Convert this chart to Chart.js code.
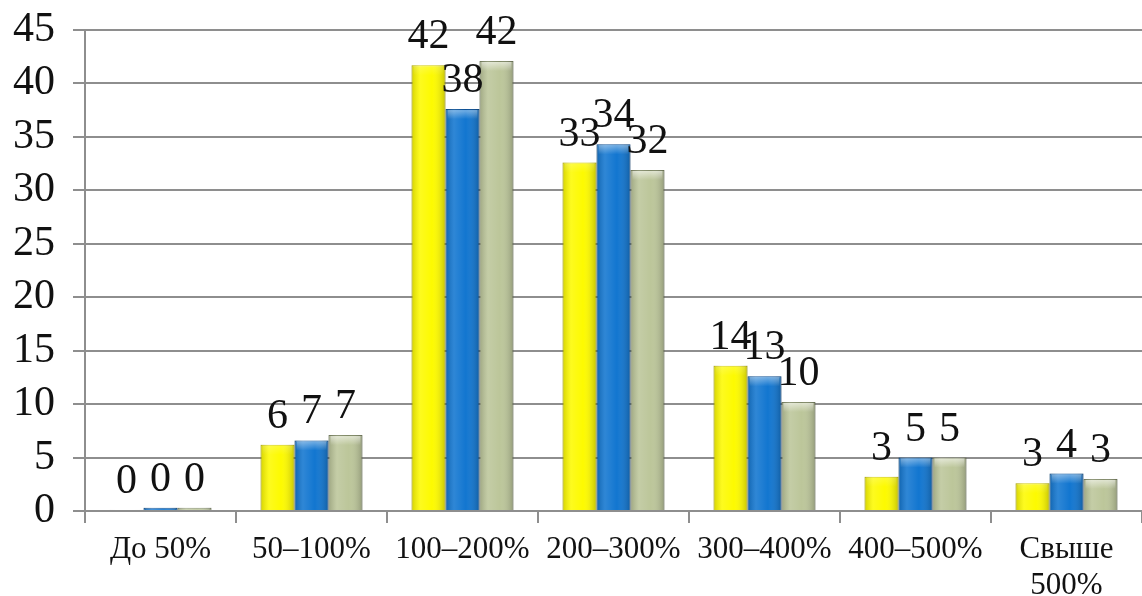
<!DOCTYPE html>
<html>
<head>
<meta charset="utf-8">
<script src="https://cdn.jsdelivr.net/npm/chart.js@4/dist/chart.umd.min.js"></script>
<style>
  html, body { margin: 0; padding: 0; background: #fff; }
  #wrap { width: 1142px; height: 596px; position: relative; }
</style>
</head>
<body>
<div id="wrap"><canvas id="chart"></canvas></div>
<script>
// categories and the three series
var categories = ['До 50%', '50–100%', '100–200%', '200–300%', '300–400%', '400–500%', ['Свыше', '500%']];
var yellowValues = [0.1, 6.2, 41.7, 32.6, 13.6, 3.2, 2.6];
var blueValues   = [0.3, 6.6, 37.6, 34.3, 12.6, 5.0, 3.5];
var greenValues  = [0.3, 7.1, 42.1, 31.9, 10.2, 5.0, 3.0];

var gridColor = '#8e8e8e';
var serif = '"Liberation Serif", "DejaVu Serif", serif';

// shading over each bar + value labels on top
var barDecor = {
    id: 'barDecor',
    afterDatasetsDraw: function(chart) {
        var ctx = chart.ctx;
        chart.data.datasets.forEach(function(ds, i) {
            var meta = chart.getDatasetMeta(i);
            meta.data.forEach(function(bar) {
                var left = bar.x - bar.width / 2;
                var top = bar.y;
                var h = bar.base - bar.y;
                if (h <= 0) return;
                ctx.save();
                var g = ctx.createLinearGradient(left, 0, left + bar.width, 0);
                g.addColorStop(0, 'rgba(0,0,0,0.16)');
                g.addColorStop(0.25, 'rgba(255,255,255,0.12)');
                g.addColorStop(0.6, 'rgba(255,255,255,0)');
                g.addColorStop(1, 'rgba(0,0,0,0.22)');
                ctx.fillStyle = g;
                ctx.fillRect(left, top, bar.width, h);
                var capH = Math.min(10, h);
                var c = ctx.createLinearGradient(0, top, 0, top + capH);
                c.addColorStop(0, 'rgba(255,255,255,' + ds.capAlpha + ')');
                c.addColorStop(1, 'rgba(255,255,255,0)');
                ctx.fillStyle = c;
                ctx.fillRect(left + 2, top + 1, bar.width - 4, capH);
                ctx.restore();
            });
        });
        ctx.save();
        ctx.font = '42px ' + serif;
        ctx.fillStyle = '#111';
        ctx.textAlign = 'center';
        ctx.textBaseline = 'alphabetic';
        chart.data.datasets.forEach(function(ds, i) {
            chart.getDatasetMeta(i).data.forEach(function(bar, j) {
                ctx.fillText(String(Math.round(ds.data[j])), bar.x, bar.y - 17);
            });
        });
        ctx.restore();
    }
};

new Chart(document.getElementById('chart'), {
    type: 'bar',
    data: {
        labels: categories,
        datasets: [
            { data: yellowValues, backgroundColor: '#fdfa00', borderColor: '#cfc900', capAlpha: 0.2 },
            { data: blueValues, backgroundColor: '#1276d0', borderColor: '#0b4f94', capAlpha: 0.45 },
            { data: greenValues, backgroundColor: '#bcc69a', borderColor: '#7f8866', capAlpha: 0.6 }
        ]
    },
    options: {
        responsive: true,
        maintainAspectRatio: false,
        animation: false,
        devicePixelRatio: 1,
        layout: { padding: { top: 30, right: 0, left: 0, bottom: 0 } },
        datasets: {
            bar: { categoryPercentage: 0.675, barPercentage: 1.0, borderWidth: 1 }
        },
        plugins: {
            legend: { display: false },
            tooltip: { enabled: false }
        },
        scales: {
            x: {
                afterFit: function(scale) {
                    scale.height = 85;
                    scale.paddingLeft = 0;
                    scale.paddingRight = 0;
                },
                border: { display: true, color: gridColor, width: 2 },
                grid: { offset: true, drawOnChartArea: false, drawTicks: true, tickLength: 12, color: gridColor, lineWidth: 2 },
                ticks: { color: '#111', padding: 9, maxRotation: 0, autoSkip: false, font: { family: serif, size: 31, lineHeight: 1.15 } }
            },
            y: {
                min: 0,
                max: 45,
                afterFit: function(scale) {
                    scale.width = 85;
                    scale.paddingTop = 0;
                    scale.paddingBottom = 0;
                },
                border: { display: true, color: gridColor, width: 2 },
                grid: { color: gridColor, lineWidth: 2, tickLength: 12 },
                ticks: { stepSize: 5, autoSkip: false, color: '#111', padding: 18, font: { family: serif, size: 42 } }
            }
        }
    },
    plugins: [barDecor]
});
</script>
</body>
</html>
